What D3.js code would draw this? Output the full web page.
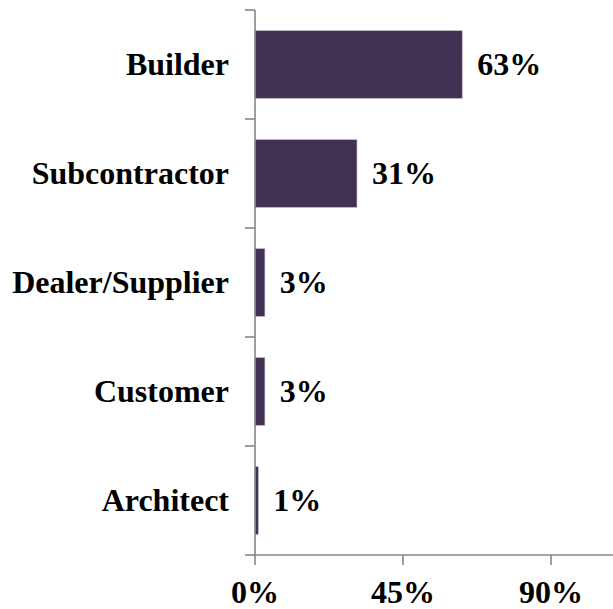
<!DOCTYPE html>
<html>
<head>
<meta charset="utf-8">
<script src="https://cdn.jsdelivr.net/npm/d3@7"></script>
<style>
  html, body { margin: 0; padding: 0; background: #ffffff; }
  svg { display: block; }
</style>
</head>
<body>
<svg id="chart" width="613" height="609"></svg>
<script>
const categories = ["Builder", "Subcontractor", "Dealer/Supplier", "Customer", "Architect"];
const values = [63, 31, 3, 3, 1];
const tickValues = [0, 45, 90];
const tickLabels = ["0%", "45%", "90%"];
const axisMax = 135;

const svg = d3.select("#chart");
const font = "'Liberation Serif', 'Times New Roman', serif";
const axisColor = "#868686";
const barColor = "#413153";

const x = d3.scaleLinear().domain([0, 90]).range([255, 551]);
const y = d3.scaleBand().domain(categories).range([10, 555]).padding(0);
const bw = y.bandwidth();
const barFrac = 0.62;

// bars
svg.append("g").selectAll("rect")
  .data(categories)
  .join("rect")
  .attr("x", x(0))
  .attr("y", c => y(c) + bw * (1 - barFrac) / 2)
  .attr("width", (c, i) => x(values[i]) - x(0))
  .attr("height", bw * barFrac)
  .attr("fill", barColor)
  .attr("stroke", "#b7aec2")
  .attr("stroke-width", 0.6);

// value labels
svg.append("g").selectAll("text")
  .data(categories)
  .join("text")
  .attr("x", (c, i) => x(values[i]) + 15)
  .attr("y", c => y(c) + bw / 2 + 10.5)
  .attr("font-family", font)
  .attr("font-weight", "bold")
  .attr("font-size", 32)
  .attr("fill", "#000")
  .text((c, i) => values[i] + "%");

// y axis
const yAxis = svg.append("g");
yAxis.append("line")
  .attr("x1", x(0)).attr("x2", x(0))
  .attr("y1", 10).attr("y2", 555)
  .attr("stroke", axisColor).attr("stroke-width", 1.6);
const boundaries = categories.map(c => y(c)).concat([y.range()[1]]);
yAxis.selectAll("line.tick")
  .data(boundaries)
  .join("line")
  .attr("class", "tick")
  .attr("x1", x(0) - 10).attr("x2", x(0))
  .attr("y1", d => d).attr("y2", d => d)
  .attr("stroke", axisColor).attr("stroke-width", 1.6);
yAxis.selectAll("text")
  .data(categories)
  .join("text")
  .attr("x", 229)
  .attr("y", c => y(c) + bw / 2 + 10.5)
  .attr("text-anchor", "end")
  .attr("font-family", font)
  .attr("font-weight", "bold")
  .attr("font-size", 32)
  .attr("fill", "#000")
  .text(c => c);

// x axis
const xAxis = svg.append("g");
xAxis.append("line")
  .attr("x1", x(0)).attr("x2", x(axisMax))
  .attr("y1", 555).attr("y2", 555)
  .attr("stroke", axisColor).attr("stroke-width", 1.6);
xAxis.selectAll("line.tick")
  .data(tickValues)
  .join("line")
  .attr("class", "tick")
  .attr("x1", d => x(d)).attr("x2", d => x(d))
  .attr("y1", 555).attr("y2", 565)
  .attr("stroke", axisColor).attr("stroke-width", 1.6);
xAxis.selectAll("text")
  .data(tickValues)
  .join("text")
  .attr("x", d => x(d))
  .attr("y", 603)
  .attr("text-anchor", "middle")
  .attr("font-family", font)
  .attr("font-weight", "bold")
  .attr("font-size", 32)
  .attr("fill", "#000")
  .text((d, i) => tickLabels[i]);
</script>
</body>
</html>
